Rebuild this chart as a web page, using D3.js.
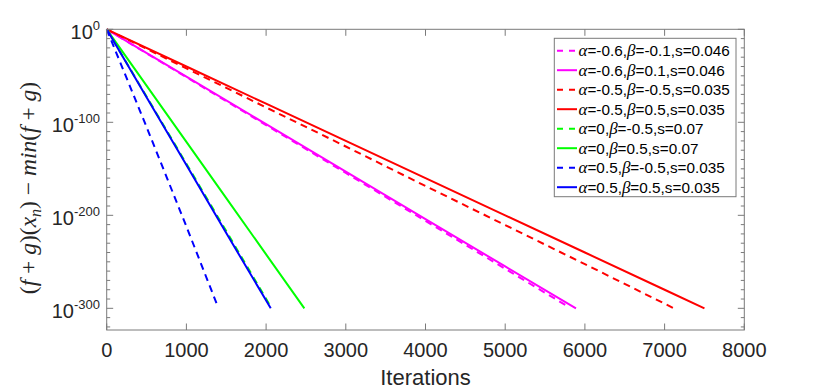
<!DOCTYPE html>
<html>
<head>
<meta charset="utf-8">
<script src="https://cdn.jsdelivr.net/npm/d3@7"></script>
<style>
  body { margin: 0; background: #fff; }
  svg { display: block; }
</style>
</head>
<body>
<svg id="chart" width="822" height="391"></svg>
<script>
// iterations and log10 of the gap
const magDashX = [0, 1000, 2000, 3000, 4000, 5000, 5805];
const magDashY = [0, -51.5, -103, -154.5, -206, -257.5, -299];
const magSolidX = [0, 1000, 2000, 3000, 4000, 5000, 5888];
const magSolidY = [0, -51, -102, -153, -204, -255, -300];
const redDashX = [0, 1000, 2000, 3000, 4000, 5000, 6000, 7000, 7115];
const redDashY = [0, -42, -84, -126, -168.5, -210.5, -252.5, -295, -300];
const redSolidX = [0, 1000, 2000, 3000, 4000, 5000, 6000, 7000, 7500];
const redSolidY = [0, -40, -80, -120, -160, -200, -240, -280, -300];
const greenDashX = [0, 500, 1000, 1500, 2070];
const greenDashY = [0, -72.3, -144.6, -217, -300];
const greenSolidX = [0, 500, 1000, 1500, 2000, 2480];
const greenSolidY = [0, -60.5, -121, -181.5, -242, -300];
const blueDashX = [0, 500, 1000, 1380];
const blueDashY = [0, -105, -212, -295];
const blueSolidX = [0, 500, 1000, 1500, 2058];
const blueSolidY = [0, -73, -146, -219, -300];

const labels = [
  ['-0.6', '-0.1', '0.046'],
  ['-0.6', '0.1', '0.046'],
  ['-0.5', '-0.5', '0.035'],
  ['-0.5', '0.5', '0.035'],
  ['0', '-0.5', '0.07'],
  ['0', '0.5', '0.07'],
  ['0.5', '-0.5', '0.035'],
  ['0.5', '0.5', '0.035']
];
const xTicks = [0, 1000, 2000, 3000, 4000, 5000, 6000, 7000, 8000];
const yTickExps = [0, -100, -200, -300];

const seriesX = [magDashX, magSolidX, redDashX, redSolidX, greenDashX, greenSolidX, blueDashX, blueSolidX];
const seriesY = [magDashY, magSolidY, redDashY, redSolidY, greenDashY, greenSolidY, blueDashY, blueSolidY];
const colors = ['#ff00ff', '#ff00ff', '#ff0000', '#ff0000', '#00ff00', '#00ff00', '#0000ff', '#0000ff'];
const dashed = [true, false, true, false, true, false, true, false];

const svg = d3.select('#chart');
const margin = {left: 106.7, right: 744.3, top: 29.3, bottom: 330};
const axisColor = '#7a7a7a';
const textColor = '#262626';
const sans = 'Liberation Sans, Arial, sans-serif';
const serif = 'Liberation Serif, Times New Roman, serif';

const x = d3.scaleLinear().domain([0, 8000]).range([margin.left, margin.right]);
const y = d3.scaleLog().domain([5e-324, 1]).range([margin.bottom, margin.top]);

// lines
const line = d3.line()
  .x(d => x(d[0]))
  .y(d => y(Math.pow(10, d[1])));

seriesX.forEach((xs, i) => {
  const pts = xs.map((v, j) => [v, seriesY[i][j]]);
  svg.append('path')
    .datum(pts)
    .attr('fill', 'none')
    .attr('stroke', colors[i])
    .attr('stroke-width', 2)
    .attr('stroke-dasharray', dashed[i] ? '7,5' : null)
    .attr('d', line);
});

// box
const g = svg.append('g');
g.append('rect')
  .attr('x', margin.left).attr('y', margin.top)
  .attr('width', margin.right - margin.left)
  .attr('height', margin.bottom - margin.top)
  .attr('fill', 'none')
  .attr('stroke', axisColor)
  .attr('stroke-width', 1);

// x ticks (bottom and top, pointing inwards)
xTicks.forEach(t => {
  const px = x(t);
  g.append('line').attr('x1', px).attr('x2', px)
    .attr('y1', margin.bottom).attr('y2', margin.bottom - 6.5)
    .attr('stroke', axisColor);
  g.append('line').attr('x1', px).attr('x2', px)
    .attr('y1', margin.top).attr('y2', margin.top + 6.5)
    .attr('stroke', axisColor);
  g.append('text')
    .attr('x', px).attr('y', 357)
    .attr('text-anchor', 'middle')
    .attr('font-family', sans).attr('font-size', 20)
    .attr('fill', textColor)
    .text(t);
});

// y ticks: minor every 10 decades, major every 100
d3.range(0, -330, -10).forEach(e => {
  const py = y(Math.pow(10, e));
  const len = e % 100 === 0 ? 6.5 : 3.5;
  g.append('line').attr('x1', margin.left).attr('x2', margin.left + len)
    .attr('y1', py).attr('y2', py).attr('stroke', axisColor);
  g.append('line').attr('x1', margin.right).attr('x2', margin.right - len)
    .attr('y1', py).attr('y2', py).attr('stroke', axisColor);
});

yTickExps.forEach(e => {
  const py = y(Math.pow(10, e));
  const t = g.append('text')
    .attr('x', 100).attr('y', py + 9.5)
    .attr('text-anchor', 'end')
    .attr('font-family', sans).attr('font-size', 20)
    .attr('fill', textColor);
  t.append('tspan').text('10');
  t.append('tspan').attr('dy', -9).attr('font-size', 13).text(e);
});

// axis labels
svg.append('text')
  .attr('x', (margin.left + margin.right) / 2).attr('y', 385)
  .attr('text-anchor', 'middle')
  .attr('font-family', sans).attr('font-size', 22)
  .attr('fill', textColor)
  .text('Iterations');

const nb = '\u00a0';
const yl = svg.append('text')
  .attr('transform', 'translate(36,188) rotate(-90)')
  .attr('text-anchor', 'middle')
  .attr('font-family', serif).attr('font-size', 23.5)
  .attr('fill', textColor);
const parts = [
  ['(', false], ['f', true], [nb + '+' + nb, false], ['g', true], [')(', false], ['x', true]
];
parts.forEach(p => yl.append('tspan').attr('font-style', p[1] ? 'italic' : 'normal').text(p[0]));
yl.append('tspan').attr('font-style', 'italic').attr('font-size', 16).attr('dy', 5).text('n');
yl.append('tspan').attr('dy', -5).text(')' + nb + '\u2212' + nb);
[['min', true], ['(', false], ['f', true], [nb + '+' + nb, false], ['g', true], [')', false]]
  .forEach(p => yl.append('tspan').attr('font-style', p[1] ? 'italic' : 'normal').text(p[0]));

// legend
const lg = svg.append('g');
lg.append('rect')
  .attr('x', 554.3).attr('y', 38.3)
  .attr('width', 181.7).attr('height', 158.4)
  .attr('fill', '#fff')
  .attr('stroke', axisColor);

labels.forEach((lab, i) => {
  const ly = 50.7 + i * 19.5;
  lg.append('line')
    .attr('x1', 557).attr('x2', 577)
    .attr('y1', ly).attr('y2', ly)
    .attr('stroke', colors[i]).attr('stroke-width', 2)
    .attr('stroke-dasharray', dashed[i] ? '6,6' : null);
  const t = lg.append('text')
    .attr('x', 578.5).attr('y', ly + 5.5)
    .attr('font-family', sans).attr('font-size', 15.3)
    .attr('fill', '#000');
  t.append('tspan').attr('font-family', serif).attr('font-style', 'italic').attr('font-size', 17).text('\u03b1');
  t.append('tspan').text('=' + lab[0] + ',');
  t.append('tspan').attr('font-family', serif).attr('font-style', 'italic').attr('font-size', 17).text('\u03b2');
  t.append('tspan').text('=' + lab[1] + ',s=' + lab[2]);
});
</script>
</body>
</html>
